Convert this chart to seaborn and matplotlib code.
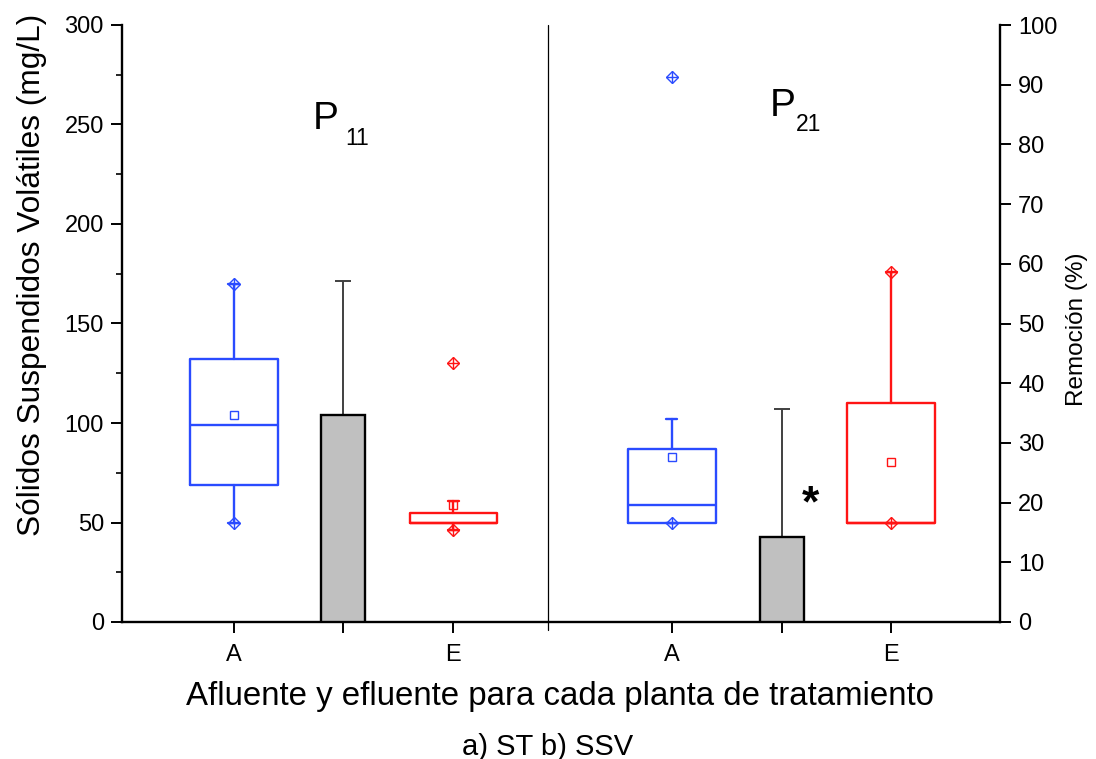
import matplotlib
matplotlib.use("Agg")
import matplotlib.pyplot as plt
import seaborn as sns
import numpy as np
import pandas as pd
from matplotlib.ticker import MultipleLocator

# ---------------- data ----------------
box_pos = [1.02, 3.02, 5.01, 7.01]
box_colors = ["#2A4BFF", "#FF1414", "#2A4BFF", "#FF1414"]
q1 = [69, 50, 50, 50]
median = [99, 50, 59, 50]
q3 = [132, 55, 87, 110]
whisk_lo = [50, 46, 50, 50]
whisk_hi = [170, 61, 102, 176]
mean = [104, 59, 83, 80.4]
v_min = [50, 46, 50, 50]
v_max = [170, 130, 274, 176]

bar_pos = [2.01, 6.01]
removal = [34.7, 14.3]
removal_upper = [57.2, 35.7]

tick_pos = [1.02, 2.01, 3.02, 5.01, 6.01, 7.01]
tick_labels = ["A", "", "E", "A", "", "E"]

# ---------------- style ----------------
sns.set_style("ticks")
plt.rcParams["font.family"] = ["Liberation Sans", "DejaVu Sans"]
for k in ("text.color", "axes.labelcolor", "xtick.color", "ytick.color", "axes.edgecolor"):
    plt.rcParams[k] = "black"

W, H = 1096, 759
fig = plt.figure(figsize=(W / 100, H / 100), dpi=100)
ax = fig.add_axes([122 / W, 1 - 622 / H, 878 / W, 597 / H])
ax2 = ax.twinx()

# boxes
for i in range(len(box_pos)):
    c = box_colors[i]
    st = [dict(med=median[i], q1=q1[i], q3=q3[i], whislo=whisk_lo[i],
               whishi=whisk_hi[i], mean=mean[i], fliers=[])]
    ax.bxp(st, positions=[box_pos[i]], widths=0.8, showmeans=True,
           showfliers=False, capwidths=0.1, manage_ticks=False,
           boxprops=dict(color=c, linewidth=1.7),
           medianprops=dict(color=c, linewidth=1.7),
           whiskerprops=dict(color=c, linewidth=1.7),
           capprops=dict(color=c, linewidth=1.7),
           meanprops=dict(marker="s", markerfacecolor="none",
                          markeredgecolor=c, markersize=6, markeredgewidth=1.0))
    for v in (v_min[i], v_max[i]):
        ax.plot([box_pos[i]], [v], marker="D", ms=6, mfc="none", mec=c, mew=1.0,
                zorder=4, clip_on=False)
        ax.plot([box_pos[i]], [v], marker="+", ms=9, mec=c, mew=1.0,
                zorder=4, clip_on=False)

# bars (right axis)
df = pd.DataFrame({"pos": bar_pos, "rem": removal})
sns.barplot(data=df, x="pos", y="rem", native_scale=True, width=0.1,
            color="#C0C0C0", edgecolor="black", linewidth=1.7,
            errorbar=None, ax=ax2, saturation=1, zorder=3)
err = np.array(removal_upper) - np.array(removal)
ax2.errorbar(bar_pos, removal, yerr=[np.zeros_like(err), err], fmt="none",
             ecolor="#404040", elinewidth=1.4, capsize=6, capthick=1.4, zorder=2)

# axes setup
ax.set_xlim(0, 8)
ax.set_ylim(0, 300)
ax2.set_ylim(0, 100)
ax.set_xticks(tick_pos)
ax.set_xticklabels(tick_labels)
ax.yaxis.set_major_locator(MultipleLocator(50))
ax.yaxis.set_minor_locator(MultipleLocator(25))
ax2.yaxis.set_major_locator(MultipleLocator(10))
ax2.set_xlabel("")
ax2.set_ylabel("")
ax.set_xlabel("")
ax.set_ylabel("")

for a in (ax, ax2):
    a.spines["top"].set_visible(False)
    for s in ("left", "right", "bottom"):
        a.spines[s].set_linewidth(1.7)
        a.spines[s].set_color("black")
ax.spines["right"].set_visible(False)
ax2.spines["left"].set_visible(False)
ax2.spines["bottom"].set_visible(False)

ax.tick_params(axis="y", which="major", direction="out", length=8, width=1.4,
               labelsize=17, pad=5, colors="black")
ax.tick_params(axis="y", which="minor", direction="out", length=4.5, width=1.2)
ax.tick_params(axis="x", direction="out", length=8, width=1.4,
               labelsize=17, pad=8, colors="black")
ax2.tick_params(axis="y", direction="out", length=8, width=1.4,
                labelsize=17, pad=5, colors="black")

# divider line
ax.plot([3.88, 3.88], [300, -4], color="black", lw=0.9, clip_on=False, zorder=1)

# annotations
ax.text(1.74, 247.7, "P", fontsize=28, ha="left", va="baseline")
ax.text(2.03, 239.7, "11", fontsize=16.5, ha="left", va="baseline")
ax.text(5.90, 254.3, "P", fontsize=28, ha="left", va="baseline")
ax.text(6.14, 246.7, "21", fontsize=16.5, ha="left", va="baseline")
ax.text(6.27, 59, "*", fontsize=32, fontweight="bold", ha="center", va="center")

# labels
fig.text(32 / W, 1 - 275 / H, "Sólidos Suspendidos Volátiles (mg/L)",
         rotation=90, ha="center", va="center", fontsize=22.8)
fig.text(1077 / W, 1 - 329 / H, "Remoción (%)", rotation=90,
         ha="center", va="center", fontsize=17.5)
fig.text(560 / W, 1 - 697 / H, "Afluente y efluente para cada planta de tratamiento",
         ha="center", va="center", fontsize=23.8)
fig.text(548 / W, 1 - 747 / H, "a) ST b) SSV", ha="center", va="center", fontsize=21)

fig.savefig("out.png", dpi=100)
